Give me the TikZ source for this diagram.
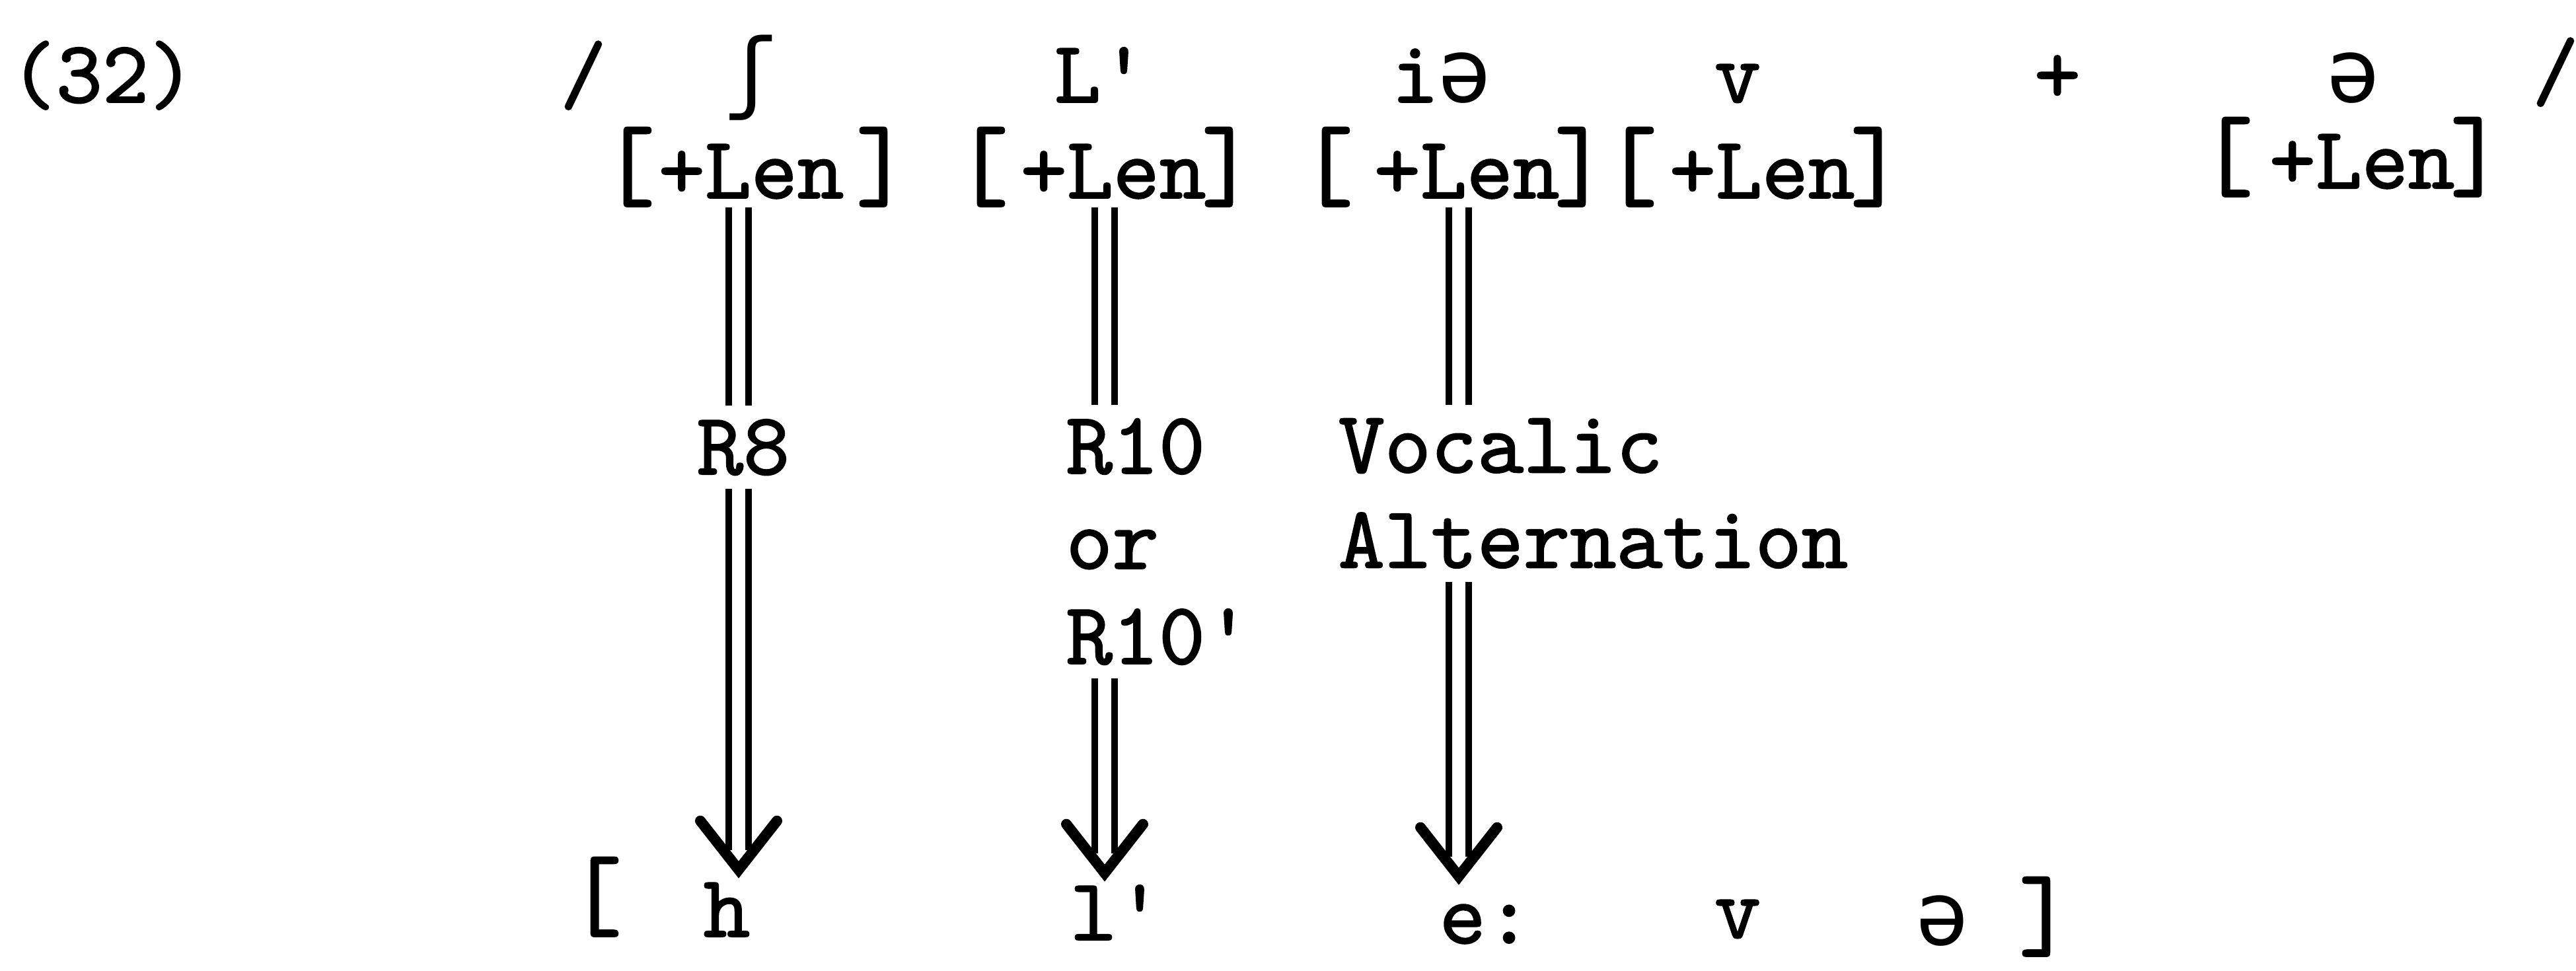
\documentclass[tikz,border=0pt]{standalone}
\usepackage{fontspec}
\usepackage{tikz}
\usetikzlibrary{calc}
\newfontfamily\twfont{lmmono10-regular.otf}[FakeBold=1.5]
\newfontfamily\ipafont{DejaVu Sans Mono}
\newcommand{\tw}{\fontsize{38}{41}\selectfont\twfont}
\newcommand{\twbig}{\fontsize{44}{48}\selectfont\twfont}
\tikzset{
  seg/.style={font=\tw, anchor=base, inner sep=0.06cm},
  surf/.style={font=\tw, anchor=base, inner sep=0.19cm, text height=0.816cm},
  feat/.style={font=\tw, anchor=base, inner sep=0.13cm},
  brk/.style={font=\twbig, anchor=base, inner sep=0pt},
  lbl/.style={font=\tw, align=left, inner sep=0.2cm},
  dbl/.style={double, double distance=2mm, line width=1mm},
  vhead/.style={line width=1.6mm, line cap=round, line join=miter},
}

\begin{document}
\begin{tikzpicture}
  \useasboundingbox (0,0) rectangle (38.99,-14.70);
  % underlying form
  \node[seg] (num) at (1.55,-1.55) {(32)};
  \node[seg] (sl1) at (8.83,-1.55) {/};
  \node[seg] (sh) at (11.37,-1.55) {\ipafont ʃ};
  \node[seg] (Lp) at (16.66,-1.55) {L'};
  \node[seg] (ia) at (21.82,-1.55) {i{\ipafont ə}};
  \node[seg] (v1) at (26.30,-1.55) {v};
  \node[seg] (plus) at (31.14,-1.55) {+};
  \node[seg] (sw1) at (35.62,-1.55) {\ipafont ə};
  \node[seg] (sl2) at (38.68,-1.50) {/};
  % length features
  \node[brk] (lb1) at (9.51,-3.00) {[};
  \node[feat] (len1) at (11.37,-3.00) {+Len};
  \node[brk] (rb1) at (13.36,-3.00) {]};
  \node[brk] (lb2) at (14.86,-3.00) {[};
  \node[feat] (len2) at (16.85,-3.00) {+Len};
  \node[brk] (rb2) at (18.59,-3.00) {]};
  \node[brk] (lb3) at (20.08,-3.00) {[};
  \node[feat] (len3) at (22.20,-3.00) {+Len};
  \node[brk] (rb3) at (23.93,-3.00) {]};
  \node[brk] (lb4) at (24.68,-3.00) {[};
  \node[feat] (len4) at (26.67,-3.00) {+Len};
  \node[brk] (rb4) at (28.41,-3.00) {]};
  \node[brk] (lb5) at (33.70,-2.85) {[};
  \node[feat] (len5) at (35.75,-2.85) {+Len};
  \node[brk] (rb5) at (37.49,-2.85) {]};
  % rule labels
  \node[lbl, anchor=base] (r8) at (11.25,-7.18) {R8};
  \node[lbl, anchor=north west] (r10) at (15.93,-6.13) {R10\\or\\R10'};
  \node[lbl, anchor=north west] (voc) at (20.05,-6.13) {Vocalic\\Alternation};
  % surface form
  \node[brk] (lbB) at (9.01,-14.05) {[};
  \node[surf] (h) at (11.00,-14.18) {h};
  \node[surf] (lp) at (16.90,-14.23) {l'};
  \node[surf] (ee) at (22.49,-14.28) {e:};
  \node[surf] (v2) at (26.30,-14.20) {v};
  \node[surf] (sw2) at (29.40,-14.30) {\ipafont ə};
  \node[brk] (rbB) at (30.96,-14.35) {]};
  % derivation arrows
  \coordinate (c1) at (11.18,0);
  \coordinate (c2) at (16.72,0);
  \coordinate (c3) at (22.08,0);
  \draw[dbl] (c1 |- len1.south) -- (c1 |- r8.north);
  \draw[dbl, shorten >=3mm] (c1 |- r8.south) -- (c1 |- h.north) coordinate (t1);
  \draw[vhead] ($(t1)+(-0.58,0.74)$) -- (t1) -- ++(0.58,0.74);
  \draw[dbl] (c2 |- len2.south) -- (c2 |- r10.north);
  \draw[dbl, shorten >=3mm] (c2 |- r10.south) -- (c2 |- lp.north) coordinate (t2);
  \draw[vhead] ($(t2)+(-0.58,0.74)$) -- (t2) -- ++(0.58,0.74);
  \draw[dbl] (c3 |- len3.south) -- (c3 |- voc.north);
  \draw[dbl, shorten >=3mm] (c3 |- voc.south) -- (c3 |- ee.north) coordinate (t3);
  \draw[vhead] ($(t3)+(-0.58,0.74)$) -- (t3) -- ++(0.58,0.74);
\end{tikzpicture}
\end{document}
